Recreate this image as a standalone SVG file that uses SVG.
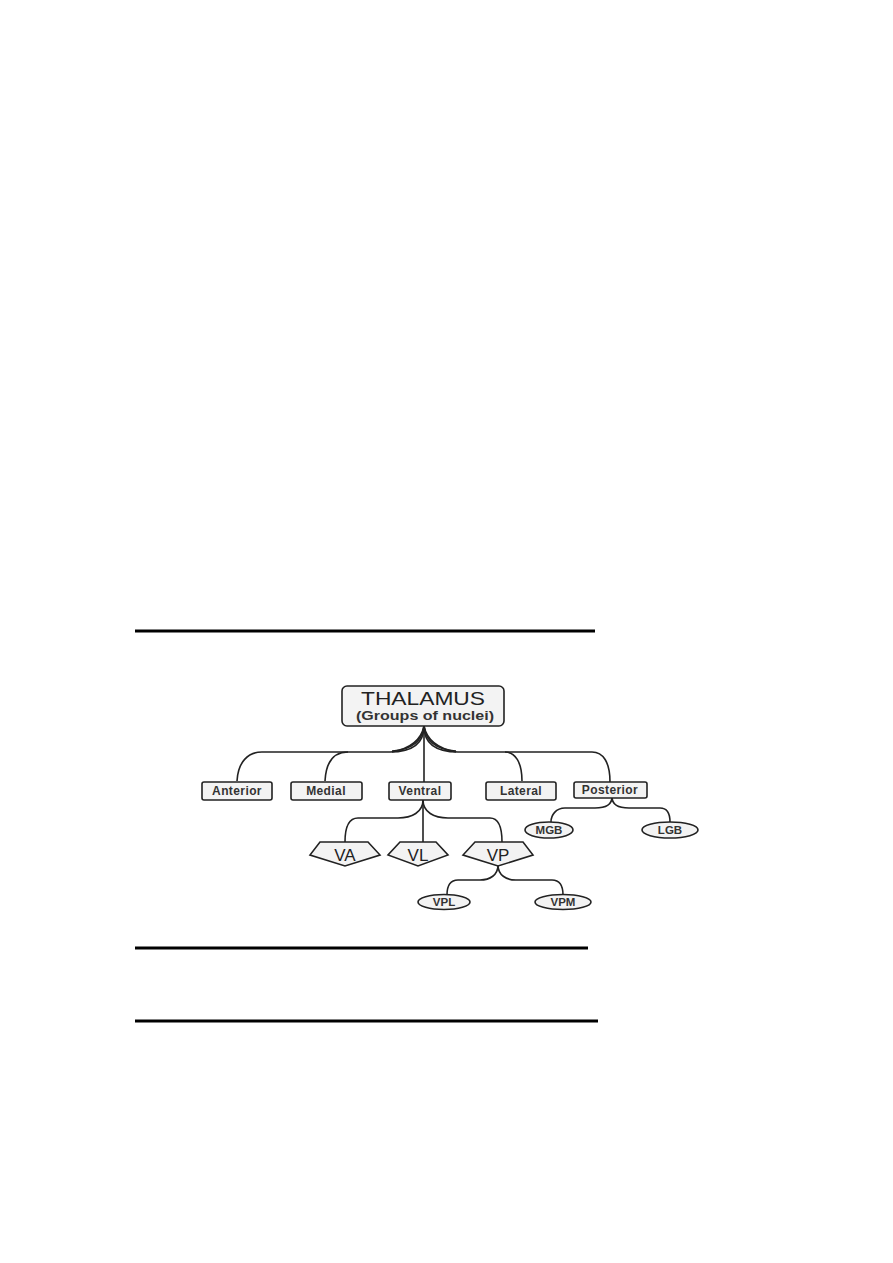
<svg xmlns="http://www.w3.org/2000/svg" width="893" height="1263" viewBox="0 0 893 1263">
<style>
.rule{stroke:#000;stroke-width:3}
.box{fill:#f3f3f3;stroke:#222;stroke-width:1.6}
.lbl{font-family:"Liberation Sans",Arial,sans-serif;font-size:12px;font-weight:bold;fill:#333;text-anchor:middle;letter-spacing:0.4px}
.big{font-family:"Liberation Sans",Arial,sans-serif;font-size:17px;fill:#222;text-anchor:middle}
.sm{font-family:"Liberation Sans",Arial,sans-serif;font-size:11.5px;font-weight:bold;fill:#333;text-anchor:middle}
.con path{fill:none;stroke:#222;stroke-width:1.6}
</style>
<rect width="893" height="1263" fill="#fff"/>
<line class="rule" x1="135" y1="631" x2="595" y2="631"/>
<line class="rule" x1="135" y1="948" x2="588" y2="948"/>
<line class="rule" x1="135" y1="1021" x2="598" y2="1021"/>
<g class="con" id="connectors">
<path d="M424,726 C424,745 410,752 390,752 L262,752 C248,752 238,762 237,781"/>
<path d="M424,726 C422,743 410,750 392,751"/>
<path d="M424,726 C421,741 408,749 392,752"/>
<path d="M348,752 C334,752 326,762 325,781"/>
<path d="M424,726 L424,782"/>
<path d="M424,726 C424,745 438,752 458,752 L505,752 C515,752 522,762 522,781"/>
<path d="M424,726 C426,743 438,750 456,751"/>
<path d="M424,726 C427,741 440,749 456,752"/>
<path d="M505,752 L592,752 C603,752 610,762 610,782"/>
<path d="M423,800 C423,812 412,818 398,818 L358,818 C350,818 345,826 345,842"/>
<path d="M423,800 L423,842"/>
<path d="M423,800 C423,812 434,818 448,818 L490,818 C498,818 502,826 502,842"/>
<path d="M498,865 C498,875 490,880 480,880 L458,880 C450,880 447,886 447,895"/>
<path d="M498,865 C498,875 506,880 516,880 L552,880 C560,880 563,886 563,895"/>
<path d="M612,797 C612,805 605,808 595,808 L565,808 C556,808 551,815 551,822"/>
<path d="M612,797 C612,805 619,808 629,808 L660,808 C668,808 670,815 670,822"/>
</g>
<g id="thalamus">
<rect class="box" x="342" y="686" width="162" height="40" rx="5"/>
<text x="423" y="705" font-family="'Liberation Sans',Arial,sans-serif" font-size="18" fill="#222" text-anchor="middle" textLength="124" lengthAdjust="spacingAndGlyphs">THALAMUS</text>
<text x="425" y="720" font-family="'Liberation Sans',Arial,sans-serif" font-size="12" font-weight="bold" fill="#333" text-anchor="middle" textLength="138" lengthAdjust="spacingAndGlyphs">(Groups of nuclei)</text>
</g>
<g id="anterior"><rect class="box" x="202" y="782" width="70" height="18" rx="2"/><text class="lbl" x="237" y="795">Anterior</text></g>
<g id="medial"><rect class="box" x="291" y="782" width="71" height="18" rx="2"/><text class="lbl" x="326" y="795">Medial</text></g>
<g id="ventral"><rect class="box" x="389" y="782" width="62" height="18" rx="2"/><text class="lbl" x="420" y="795">Ventral</text></g>
<g id="lateral"><rect class="box" x="486" y="782" width="70" height="18" rx="2"/><text class="lbl" x="521" y="795">Lateral</text></g>
<g id="posterior"><rect class="box" x="574" y="782" width="73" height="16" rx="2"/><text class="lbl" x="610" y="794">Posterior</text></g>
<g id="va"><polygon class="box" points="320,842 368,842 380,855 345,866 310,855"/><text class="big" x="345" y="861">VA</text></g>
<g id="vl"><polygon class="box" points="400,842 436,842 448,855 418,866 388,855"/><text class="big" x="418" y="861">VL</text></g>
<g id="vp"><polygon class="box" points="475,842 523,842 533,855 498,866 463,855"/><text class="big" x="498" y="861">VP</text></g>
<g id="mgb"><ellipse class="box" cx="549" cy="830" rx="24" ry="8"/><text class="sm" x="549" y="834">MGB</text></g>
<g id="lgb"><ellipse class="box" cx="670" cy="830" rx="28" ry="8"/><text class="sm" x="670" y="834">LGB</text></g>
<g id="vpl"><ellipse class="box" cx="444" cy="902" rx="26" ry="7.5"/><text class="sm" x="444" y="906">VPL</text></g>
<g id="vpm"><ellipse class="box" cx="563" cy="902" rx="28" ry="7.5"/><text class="sm" x="563" y="906">VPM</text></g>
</svg>
